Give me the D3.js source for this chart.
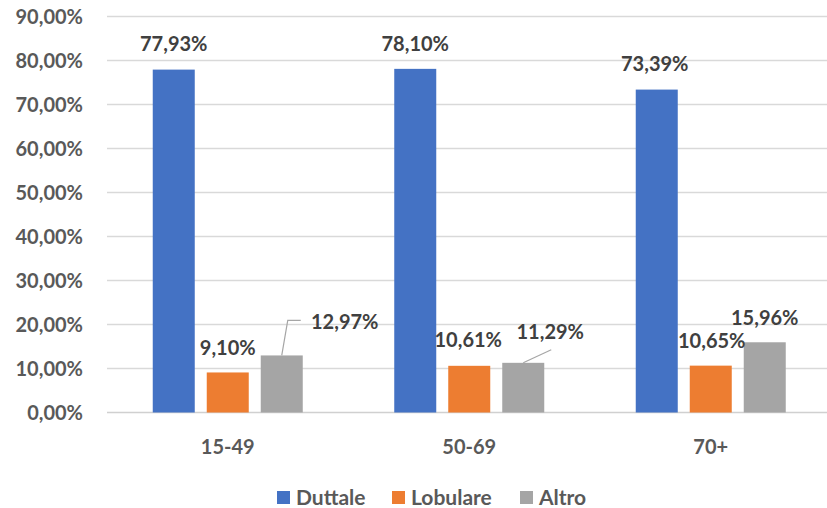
<!DOCTYPE html>
<html><head><meta charset="utf-8">
<script src="https://cdn.jsdelivr.net/npm/d3@7"></script>
<style>body{margin:0;background:#fff}svg{display:block}text{font-family:Lato,"Open Sans",sans-serif;font-weight:bold}</style>
</head><body><svg id="c" width="827" height="508"></svg>
<script>
const categories = ["15-49","50-69","70+"];
const seriesNames = ["Duttale","Lobulare","Altro"];
const duttale = [77.93, 78.10, 73.39];
const lobulare = [9.10, 10.61, 10.65];
const altro = [12.97, 11.29, 15.96];
const yTicks = [0,10,20,30,40,50,60,70,80,90];
const colors = ["#4472c4","#ed7d31","#a5a5a5"];

const values = [duttale, lobulare, altro];
const fmt = v => v.toFixed(2).replace(".", ",") + "%";
const svg = d3.select("#c");
const x = d3.scaleBand().domain(categories).range([107, 831.5]).padding(0);
const y = d3.scaleLinear().domain([0,90]).range([412.5, 16.5]);
const barW = 42, gap = 12;
const xs = d3.scaleBand().domain(seriesNames).range([0, 3*barW+2*gap]).paddingInner(gap/(barW+gap)).paddingOuter(0);

// gridlines
svg.append("g").selectAll("line").data(yTicks).join("line")
  .attr("x1", 107).attr("x2", 827)
  .attr("y1", d => y(d)).attr("y2", d => y(d))
  .attr("stroke", d => d===0 ? "#d0d0d0" : "#d9d9d9").attr("stroke-width", 1.3);

// y axis labels
svg.append("g").selectAll("text").data(yTicks).join("text")
  .attr("x", 83).attr("y", d => y(d)).attr("dy", "0.35em")
  .attr("text-anchor", "end").attr("fill", "#595959").attr("font-size", 20)
  .text(d => fmt(d));

// bars
const groupOffset = (x.bandwidth() - (3*barW+2*gap))/2;
seriesNames.forEach((s, si) => {
  svg.append("g").selectAll("rect").data(categories).join("rect")
    .attr("x", c => x(c) + groupOffset + xs(s))
    .attr("width", xs.bandwidth())
    .attr("y", (c, i) => y(values[si][i]))
    .attr("height", (c, i) => y(0) - y(values[si][i]))
    .attr("fill", colors[si]);
});

// category labels
svg.append("g").selectAll("text").data(categories).join("text")
  .attr("x", c => x(c) + x.bandwidth()/2).attr("y", 454)
  .attr("text-anchor", "middle").attr("fill", "#595959").attr("font-size", 20)
  .text(c => c);

// data labels: offsets (dx, dy of label baseline from bar top center)
const labelOff = [
  [[0,-19],[0,-18],[-2,-19]],
  [[0,-17.5],[-1,-19],[1,-17.5]],
  [[63,-26],[27,-24],[0,-17]]
];
const lbl = svg.append("g");
seriesNames.forEach((s, si) => {
  categories.forEach((c, ci) => {
    const cx = x(c) + groupOffset + xs(s) + xs.bandwidth()/2;
    const top = y(values[si][ci]);
    const [dx, dy] = labelOff[si][ci];
    lbl.append("text").attr("x", cx + dx).attr("y", top + dy)
      .attr("text-anchor", "middle").attr("fill", "#404040").attr("font-size", 20)
      .text(fmt(values[si][ci]));
  });
});
// leader lines for Altro
const xa = ci => x(categories[ci]) + groupOffset + xs("Altro") + xs.bandwidth()/2;
svg.append("path").attr("fill","none").attr("stroke","#a6a6a6").attr("stroke-width",1.2)
  .attr("d", `M${xa(0)},${y(altro[0])} L${xa(0)+6},${y(altro[0])-35} L${xa(0)+19},${y(altro[0])-35}`);
svg.append("path").attr("fill","none").attr("stroke","#a6a6a6").attr("stroke-width",1.2)
  .attr("d", `M${xa(1)},${y(altro[1])} L${xa(1)+28},${y(altro[1])-13}`);

// legend
const legX = [277, 392, 520];
const lg = svg.append("g");
seriesNames.forEach((s, i) => {
  lg.append("rect").attr("x", legX[i]).attr("y", 491).attr("width", 13).attr("height", 13).attr("fill", colors[i]);
  lg.append("text").attr("x", legX[i] + 19).attr("y", 497.5).attr("dy", "0.35em")
    .attr("fill", "#595959").attr("font-size", 21).text(s);
});
</script></body></html>
